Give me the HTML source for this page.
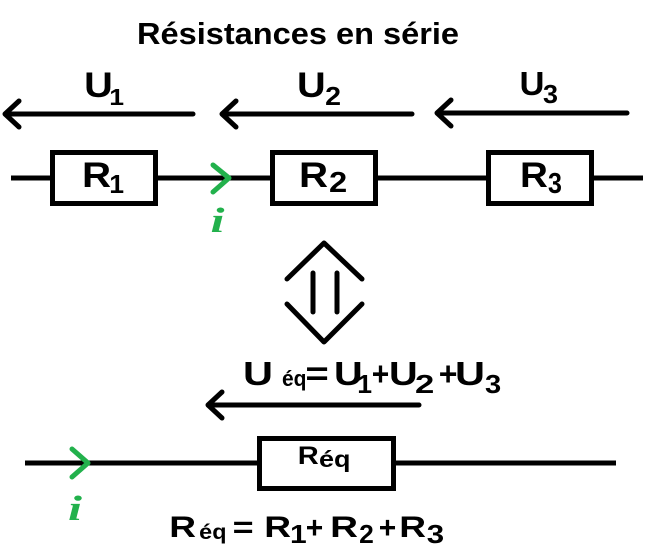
<!DOCTYPE html>
<html><head><meta charset="utf-8"><style>
html,body{margin:0;padding:0;background:#fff;}
svg{display:block;}
text{font-family:"Liberation Sans",Arial,sans-serif;font-weight:bold;fill:#000;}
.g{font-family:"Liberation Serif",serif;font-style:italic;font-weight:bold;fill:#22b14c;}
</style></head><body>
<svg width="651" height="560" viewBox="0 0 651 560" xmlns="http://www.w3.org/2000/svg">
<rect width="651" height="560" fill="#fff"/>
<!-- title -->
<text x="137" y="44" font-size="31" textLength="322" lengthAdjust="spacingAndGlyphs">Résistances en série</text>

<g stroke="#000" stroke-width="5" fill="none" stroke-linecap="round" stroke-linejoin="round">
  <line x1="6" y1="114" x2="193" y2="114"/>
  <polyline points="19,101 5,114 19,127"/>
  <line x1="223" y1="114" x2="412" y2="114"/>
  <polyline points="236,101 222,114 236,127"/>
  <line x1="438" y1="113" x2="627" y2="113"/>
  <polyline points="451,100 437,113 451,126"/>
  <line x1="11" y1="178" x2="643" y2="178" stroke-linecap="butt"/>
  <polyline points="287,279 324,243 362,279"/>
  <polyline points="287,304 324,342 362,304"/>
  <line x1="313" y1="273" x2="313" y2="312"/>
  <line x1="337" y1="273" x2="337" y2="312"/>
  <line x1="209" y1="405" x2="419" y2="405"/>
  <polyline points="222,392 208,405 222,418"/>
  <line x1="25" y1="463" x2="616" y2="463" stroke-linecap="butt"/>
</g>
<g stroke="#000" stroke-width="5" fill="#fff">
  <rect x="52.5" y="152.5" width="103" height="51"/>
  <rect x="272.5" y="152.5" width="103" height="51"/>
  <rect x="488.5" y="152.5" width="103" height="51"/>
  <rect x="259.5" y="438.5" width="134" height="50"/>
</g>
<g stroke="#22b14c" stroke-width="5" fill="none" stroke-linecap="round" stroke-linejoin="round">
  <polyline points="213,165 229,178 213,192"/>
  <polyline points="72,449 88,463 72,477"/>
</g>
<text class="g" x="217.5" y="232" font-size="35" text-anchor="middle" textLength="14" lengthAdjust="spacingAndGlyphs">i</text>
<text class="g" x="75" y="520" font-size="35" text-anchor="middle" textLength="14" lengthAdjust="spacingAndGlyphs">i</text>

<!-- U labels -->
<text x="84.1" y="97" font-size="35" textLength="28.7" lengthAdjust="spacingAndGlyphs">U</text>
<text x="109.3" y="105" font-size="23" textLength="14.8" lengthAdjust="spacingAndGlyphs">1</text>
<text x="297" y="97" font-size="35" textLength="28.7" lengthAdjust="spacingAndGlyphs">U</text>
<text x="325.1" y="105" font-size="26" textLength="15.9" lengthAdjust="spacingAndGlyphs">2</text>
<text x="519.5" y="95" font-size="33" textLength="25" lengthAdjust="spacingAndGlyphs">U</text>
<text x="543" y="103" font-size="26" textLength="15" lengthAdjust="spacingAndGlyphs">3</text>

<!-- R labels -->
<text x="82" y="187" font-size="35" textLength="29.1" lengthAdjust="spacingAndGlyphs">R</text>
<text x="109.3" y="193" font-size="26" textLength="14.8" lengthAdjust="spacingAndGlyphs">1</text>
<text x="299" y="187" font-size="35" textLength="29.1" lengthAdjust="spacingAndGlyphs">R</text>
<text x="329" y="192" font-size="29" textLength="18.2" lengthAdjust="spacingAndGlyphs">2</text>
<text x="520" y="187" font-size="35" textLength="27.9" lengthAdjust="spacingAndGlyphs">R</text>
<text x="548" y="193" font-size="29" textLength="13.9" lengthAdjust="spacingAndGlyphs">3</text>

<!-- Ueq formula -->
<text x="243" y="385" font-size="33" textLength="30" lengthAdjust="spacingAndGlyphs">U</text>
<text x="282" y="386" font-size="22" textLength="24.5" lengthAdjust="spacingAndGlyphs">éq</text>
<text x="305.4" y="385" font-size="33" textLength="23.4" lengthAdjust="spacingAndGlyphs">=</text>
<text x="334" y="385" font-size="33" textLength="28.7" lengthAdjust="spacingAndGlyphs">U</text>
<text x="357.3" y="393" font-size="26" textLength="14.8" lengthAdjust="spacingAndGlyphs">1</text>
<text x="371.8" y="385" font-size="33" textLength="17.5" lengthAdjust="spacingAndGlyphs">+</text>
<text x="389" y="385" font-size="33" textLength="28.7" lengthAdjust="spacingAndGlyphs">U</text>
<text x="415" y="393" font-size="26" textLength="19.3" lengthAdjust="spacingAndGlyphs">2</text>
<text x="438.7" y="385" font-size="33" textLength="18.7" lengthAdjust="spacingAndGlyphs">+</text>
<text x="455" y="385" font-size="33" textLength="30" lengthAdjust="spacingAndGlyphs">U</text>
<text x="485" y="393" font-size="26" textLength="16.2" lengthAdjust="spacingAndGlyphs">3</text>

<!-- Req in box -->
<text x="297.8" y="464" font-size="25" textLength="21" lengthAdjust="spacingAndGlyphs">R</text>
<text x="319" y="467" font-size="23" textLength="31.5" lengthAdjust="spacingAndGlyphs">éq</text>

<!-- Req formula -->
<text x="169.3" y="537" font-size="30" textLength="26.8" lengthAdjust="spacingAndGlyphs">R</text>
<text x="199.2" y="539" font-size="21" textLength="27.3" lengthAdjust="spacingAndGlyphs">éq</text>
<text x="232.6" y="537" font-size="30" textLength="21" lengthAdjust="spacingAndGlyphs">=</text>
<text x="264.3" y="537" font-size="30" textLength="26.8" lengthAdjust="spacingAndGlyphs">R</text>
<text x="290" y="543" font-size="26" textLength="16.7" lengthAdjust="spacingAndGlyphs">1</text>
<text x="305.8" y="538" font-size="31" textLength="17.5" lengthAdjust="spacingAndGlyphs">+</text>
<text x="330.1" y="537" font-size="30" textLength="27.9" lengthAdjust="spacingAndGlyphs">R</text>
<text x="359.2" y="543" font-size="26" textLength="14.7" lengthAdjust="spacingAndGlyphs">2</text>
<text x="378.8" y="538" font-size="31" textLength="17.5" lengthAdjust="spacingAndGlyphs">+</text>
<text x="399.3" y="537" font-size="30" textLength="26.8" lengthAdjust="spacingAndGlyphs">R</text>
<text x="426.8" y="543" font-size="26" textLength="17.4" lengthAdjust="spacingAndGlyphs">3</text>
</svg>
</body></html>
